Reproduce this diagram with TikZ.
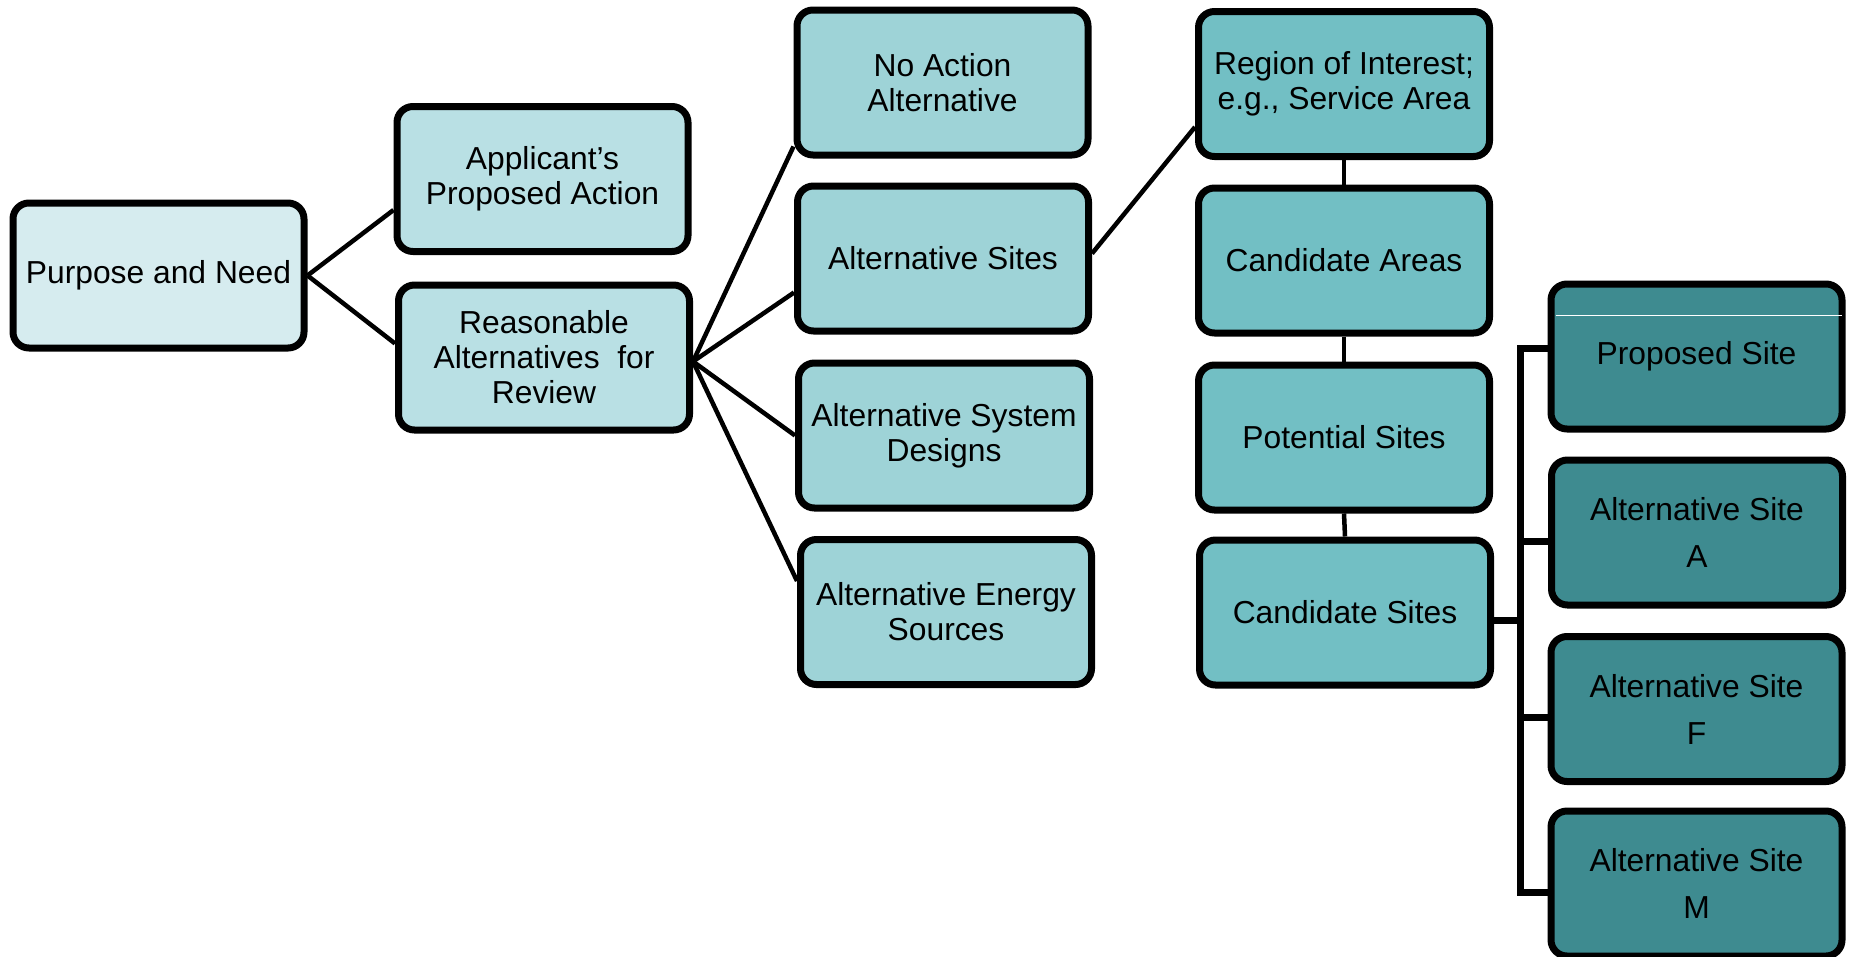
\documentclass[tikz,border=0pt]{standalone}
\usepackage{fontspec}
\setmainfont{Liberation Sans}
\definecolor{c1}{HTML}{D6ECEF}
\definecolor{c2}{HTML}{B9E0E4}
\definecolor{c3}{HTML}{9ED3D7}
\definecolor{c4}{HTML}{72BFC4}
\definecolor{c5}{HTML}{3E8B90}
\begin{document}
\begin{tikzpicture}[x=1pt,y=-1pt,
  box/.style={draw=black, line width=7pt, rounded corners=16pt,
    minimum width=291pt, minimum height=145pt, align=center, inner sep=0pt,
    font=\fontsize{31.8}{35}\selectfont},
  conn/.style={line width=4.5pt},
  brk/.style={line width=7pt, line join=miter}]
\useasboundingbox (0,0) rectangle (1851,956);
\fill[white] (0,0) rectangle (1851,956);
\clip (0,0) rectangle (1851,956);

\node[box,fill=c1] (pn) at (158.5,275.5) {Purpose and Need};
\node[box,fill=c2] (apa) at (542.5,179) {Applicant’s\\Proposed Action};
\node[box,fill=c2] (raf) at (544,357.5) {Reasonable\\Alternatives\ \ for\\Review};
\node[box,fill=c3] (na) at (942.5,82.5) {No Action\\Alternative};
\node[box,fill=c3] (as) at (943,258.5) {Alternative Sites};
\node[box,fill=c3] (asd) at (944,435.5) {Alternative System\\Designs};
\node[box,fill=c3] (aes) at (946,612) {Alternative Energy\\Sources};
\node[box,fill=c4] (roi) at (1344,84) {Region of Interest;\\e.g., Service Area};
\node[box,fill=c4] (ca) at (1344,260.5) {Candidate Areas};
\node[box,fill=c4] (ps) at (1344,437.5) {Potential Sites};
\node[box,fill=c4] (cs) at (1345,612.5) {Candidate Sites};
\node[box,fill=c5] (prop) at (1696.5,356.5) {Proposed Site};
\node[box,fill=c5] (asa) at (1697,532.5) {Alternative Site\\[12pt]A};
\node[box,fill=c5] (asf) at (1696.5,709) {Alternative Site\\[12pt]F};
\node[box,fill=c5] (asm) at (1696.5,883.5) {Alternative Site\\[12pt]M};
\draw[white, line width=1.2pt] ([shift={(8pt,-35pt)}]prop.north west) -- ([shift={(-4pt,-35pt)}]prop.north east);

\draw[conn] (pn.east) -- ([yshift=-31pt]apa.west);
\draw[conn] (pn.east) -- ([yshift=14pt]raf.west);

\coordinate (fan) at ([yshift=-4pt]raf.east);
\draw[conn] (fan) -- ([yshift=-64pt]na.west);
\draw[conn] (fan) -- ([yshift=-34pt]as.west);
\draw[conn] (fan) -- (asd.west);
\draw[conn] (fan) -- ([yshift=31pt]aes.west);

\draw[conn] ([yshift=5pt]as.east) -- ([yshift=-43pt]roi.west);

\draw[conn] (roi.south) -- (ca.north);
\draw[conn] (ca.south) -- (ps.north);
\draw[conn] (ps.south) -- (cs.north);

\coordinate (b1) at (1520,348);
\coordinate (b2) at (1520,541);
\coordinate (b3) at (1520,717);
\coordinate (b4) at (1520,892);
\coordinate (bj) at (1520,620);
\draw[brk] (b1 -| prop.west) -- (b1) -- (b4) -- (b4 -| asm.west);
\draw[brk] (b2) -- (b2 -| asa.west);
\draw[brk] (b3) -- (b3 -| asf.west);
\draw[brk] (bj -| cs.east) -- (bj);
\end{tikzpicture}
\end{document}
